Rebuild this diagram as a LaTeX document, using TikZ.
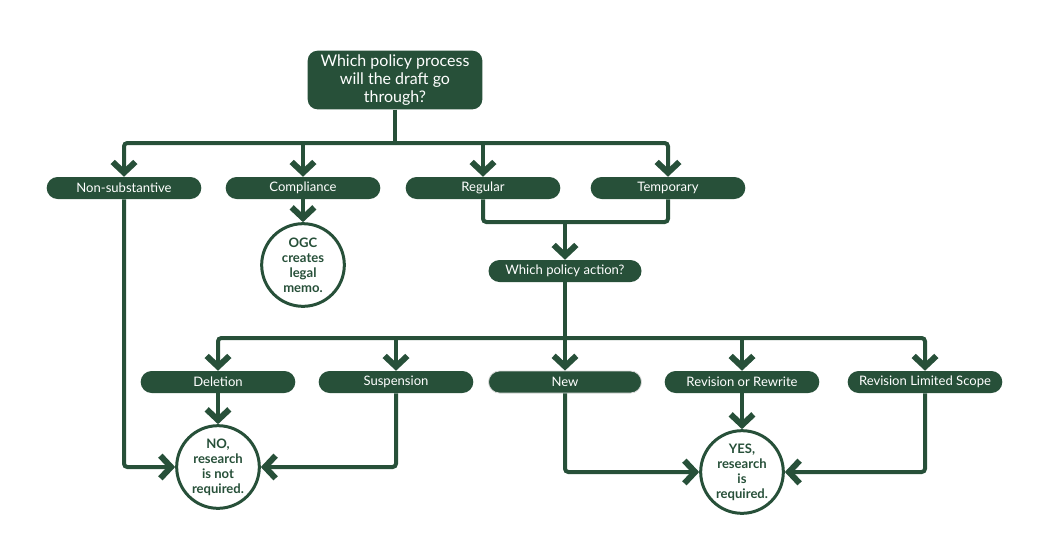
\documentclass[tikz,border=0pt]{standalone}
\RequirePackage{fontspec}
\setmainfont{Lato}
\RequirePackage{tikz}
\usetikzlibrary{calc}
\usetikzlibrary{arrows.meta}
\definecolor{pine}{RGB}{39,80,57}

\begin{document}
\begin{tikzpicture}[x=0.75pt,y=-0.75pt,
                link/.style={draw=pine,line width=3pt,rounded corners=2.5pt},
                arr/.style={link,-{Straight Barb[length=8pt,width=17pt,line width=4.5pt]}},
                pill/.style={fill=pine,text=white,rounded corners=8.25pt,minimum width=116pt,
                    minimum height=16.5pt,inner sep=0pt,font=\fontsize{9.8}{11}\selectfont},
                askbox/.style={fill=pine,text=white,rounded corners=7.5pt,minimum width=131pt,
                    minimum height=44pt,inner sep=0pt,align=center,font=\fontsize{12}{13.5}\selectfont},
                endcircle/.style={circle,draw=pine,line width=2.25pt,fill=white,text=pine,
                    minimum size=62pt,inner sep=0pt,align=center,font=\fontsize{9.8}{11.2}\selectfont\bfseries}]
                \useasboundingbox (0,0) rectangle (1039,544);

                \node[askbox] (process) at (395,80) {Which policy process\\will the draft go\\through?};

                \node[pill] (nonsub) at (124,188) {Non-substantive};
                \node[pill] (compl) at (303,188) {Compliance};
                \node[pill] (regular) at (483,188) {Regular};
                \node[pill] (temp) at (668,188) {Temporary};

                \node[endcircle] (ogc) at (303,265) {OGC\\creates\\legal\\memo.};

                \node[pill,minimum width=114.75pt] (action) at (565,271) {Which policy action?};

                \node[pill] (deletion) at (218,382) {Deletion};
                \node[pill] (susp) at (396,382) {Suspension};
                \node[pill,minimum width=114.75pt,draw=black!15,line width=0.6pt] (new) at (565,382) {New};
                \node[pill] (rewrite) at (742,382) {Revision or Rewrite};
                \node[pill] (limited) at (925,382) {Revision Limited Scope};

                \node[endcircle] (no) at (218,467) {NO,\\research\\is not\\required.};
                \node[endcircle] (yes) at (742,472) {YES,\\research\\is\\required.};

                \coordinate (bar1) at (395,143);
                \coordinate (merge) at (565,222);
                \coordinate (bar2) at (565,338);

                \draw[link] (process.south) -- (bar1);
                \draw[arr] (bar1) -| (nonsub.north);
                \draw[arr] (bar1) -| (temp.north);
                \draw[arr] (compl.north |- bar1) -- (compl.north);
                \draw[arr] (regular.north |- bar1) -- (regular.north);

                \draw[arr] (compl.south) -- (ogc.north);

                \draw[link] (regular.south) |- (merge) -| (temp.south);
                \draw[arr] (merge) -- (action.north);

                \draw[link] (action.south) -- (bar2);
                \draw[arr] (bar2) -| (deletion.north);
                \draw[arr] (bar2) -| (limited.north);
                \draw[arr] (susp.north |- bar2) -- (susp.north);
                \draw[arr] (bar2) -- (new.north);
                \draw[arr] (rewrite.north |- bar2) -- (rewrite.north);

                \draw[arr] (deletion.south) -- (no.north);
                \draw[arr] (nonsub.south) |- (no.west);
                \draw[arr] (susp.south) |- (no.east);

                \draw[arr] (rewrite.south) -- (yes.north);
                \draw[arr] (new.south) |- (yes.west);
                \draw[arr] (limited.south) |- (yes.east);
            \end{tikzpicture}
\end{document}
